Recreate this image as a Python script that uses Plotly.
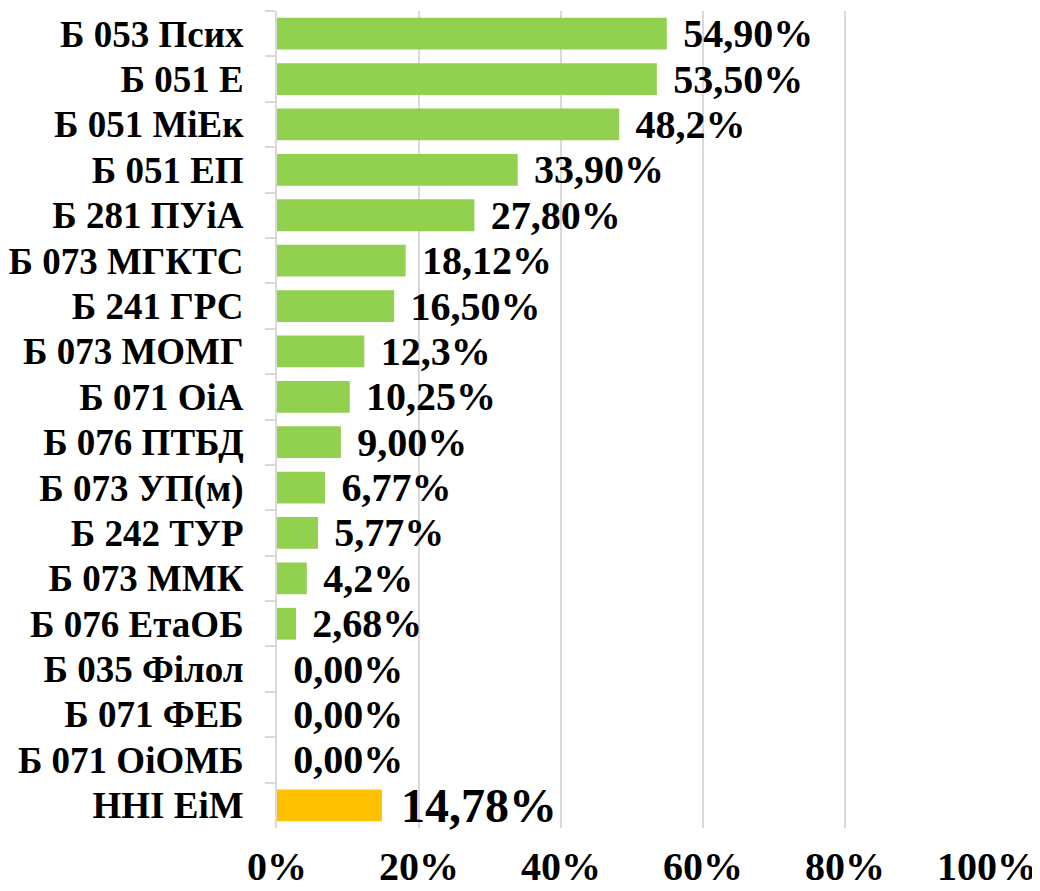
import plotly.graph_objects as go

categories = ["Б 053 Псих", "Б 051 Е", "Б 051 МіЕк", "Б 051 ЕП", "Б 281 ПУіА",
              "Б 073 МГКТС", "Б 241 ГРС", "Б 073 МОМГ", "Б 071 ОіА", "Б 076 ПТБД",
              "Б 073 УП(м)", "Б 242 ТУР", "Б 073 ММК", "Б 076 ЕтаОБ", "Б 035 Філол",
              "Б 071 ФЕБ", "Б 071 ОіОМБ", "ННІ ЕіМ"]
values = [54.90, 53.50, 48.2, 33.90, 27.80, 18.12, 16.50, 12.3, 10.25, 9.00,
          6.77, 5.77, 4.2, 2.68, 0.0, 0.0, 0.0, 14.78]
value_labels = ["54,90%", "53,50%", "48,2%", "33,90%", "27,80%", "18,12%", "16,50%",
                "12,3%", "10,25%", "9,00%", "6,77%", "5,77%", "4,2%", "2,68%",
                "0,00%", "0,00%", "0,00%", "14,78%"]
x_ticks = [0, 20, 40, 60, 80, 100]
x_tick_labels = ["0%", "20%", "40%", "60%", "80%", "100%"]

GREEN = "#92D050"
ORANGE = "#FFC000"
colors = [GREEN] * (len(categories) - 1) + [ORANGE]
label_sizes = [40] * (len(categories) - 1) + [48]
FONT = "Liberation Serif"

fig = go.Figure()
fig.add_trace(go.Bar(
    y=categories, x=values, orientation="h",
    marker=dict(color=colors, line=dict(width=0)),
    width=0.7,
    text=["\u00a0\u200a" + t for t in value_labels],
    textposition="outside",
    textfont=dict(family=FONT, size=label_sizes, color="#000000", weight="bold"),
    cliponaxis=False,
    constraintext="none",
    hoverinfo="skip",
))

# page body adds an 8px offset, so the figure is 8px smaller and margins shifted
fig.update_layout(
    width=1032, height=883,
    margin=dict(l=269, r=53, t=3, b=63, autoexpand=False),
    paper_bgcolor="white", plot_bgcolor="white",
    showlegend=False,
    font=dict(family=FONT, color="#000000"),
    bargap=0.3,
)
fig.update_xaxes(
    range=[0, 100], tickvals=x_ticks, ticktext=x_tick_labels,
    showgrid=True, gridcolor="#D9D9D9", gridwidth=2,
    zeroline=False, showline=False, ticks="",
    tickfont=dict(family=FONT, size=40, color="#000000", weight="bold"),
    ticklabelstandoff=11, automargin=False,
)
fig.update_yaxes(
    categoryorder="array", categoryarray=categories,
    autorange="reversed",
    tickmode="linear", tick0=0, dtick=1,
    showgrid=False, zeroline=False,
    showline=True, linecolor="#D9D9D9", linewidth=2,
    ticks="outside", tickson="boundaries", ticklen=10, tickcolor="#D9D9D9", tickwidth=2,
    tickfont=dict(family=FONT, size=37, color="#000000", weight="bold"),
    ticklabelstandoff=24, automargin=False,
)

fig.write_html("out.html")
